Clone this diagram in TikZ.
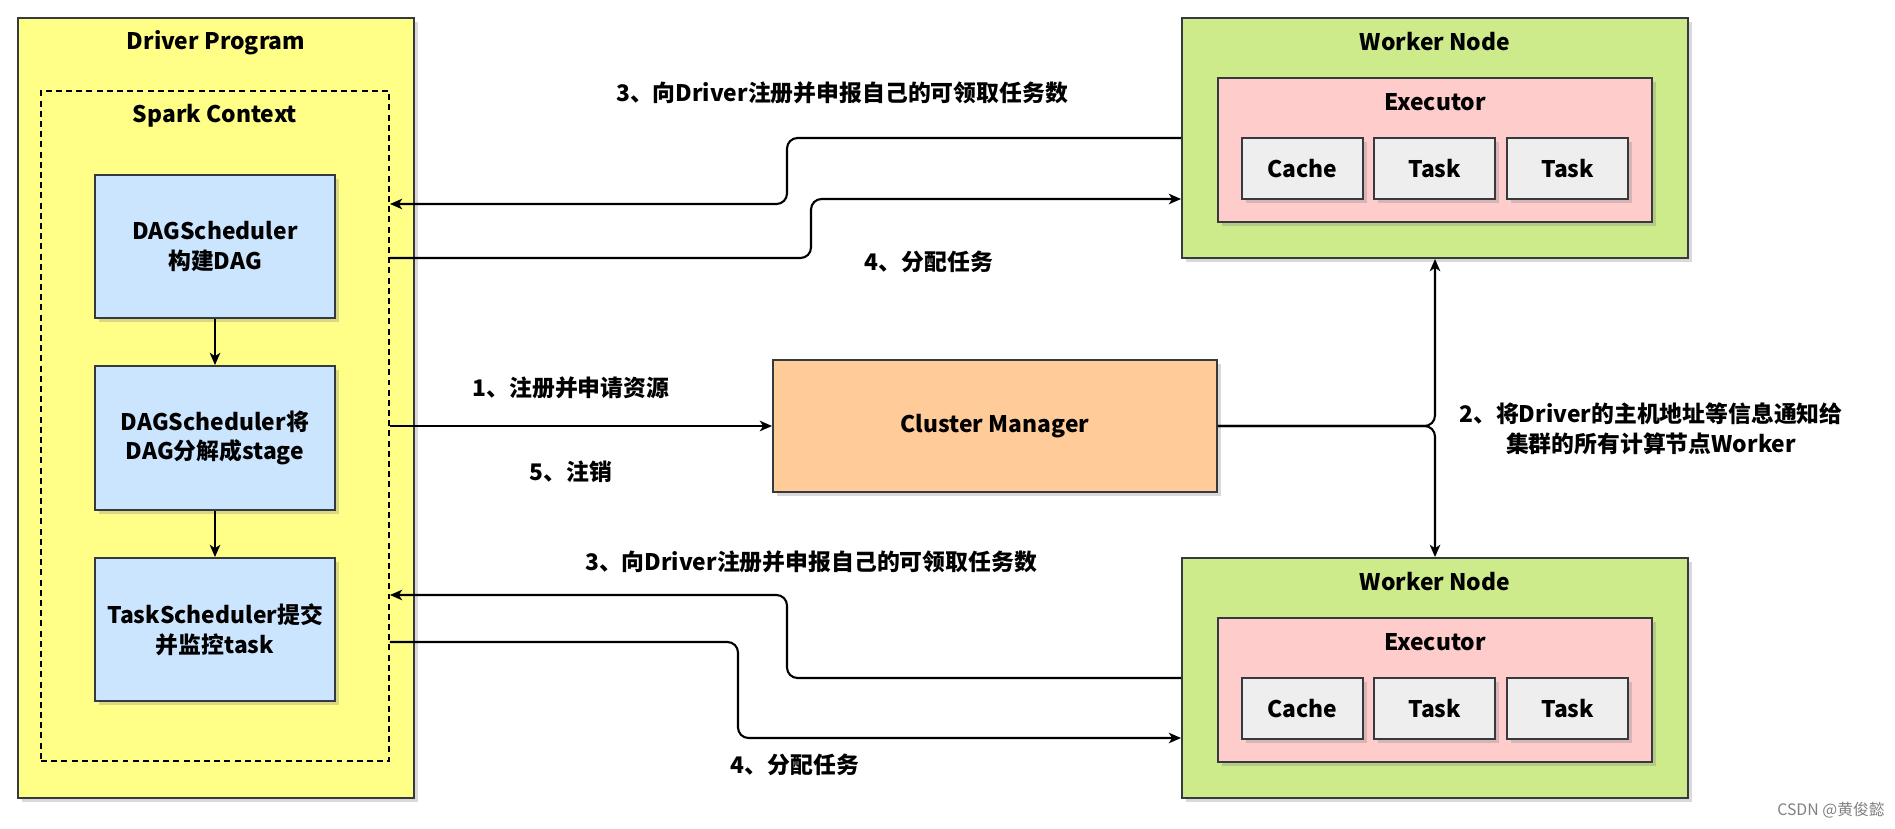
\documentclass[tikz,border=0pt]{standalone}
\usepackage{fontspec}
\setmainfont{Noto Sans CJK SC}
\usetikzlibrary{shadows, arrows.meta}

\definecolor{bord}{HTML}{36393D}
\definecolor{jaune}{HTML}{FFFF88}
\definecolor{bleu}{HTML}{CCE5FF}
\definecolor{vert}{HTML}{CDEB8B}
\definecolor{rose}{HTML}{FFCCCC}
\definecolor{gris}{HTML}{EEEEEE}
\definecolor{orange}{HTML}{FFCC99}

\tikzset{
  boite/.style={draw=bord, line width=1.1pt, drop shadow={shadow xshift=2pt, shadow yshift=-2pt, opacity=0.3}},
  texte/.style={font=\fontsize{13}{17}\selectfont\bfseries, align=center},
  fleche/.style={->, line width=1.2pt, rounded corners=6pt},
}

\begin{document}
\begin{tikzpicture}[x=0.02cm, y=-0.02cm, >={Stealth[length=7pt, width=6pt, inset=2pt]}]

% Cadre
\def\px{0.02cm}
\useasboundingbox (0,0) rectangle (1895,828);

% Driver Program
\node[boite, fill=jaune, minimum width=396*\px, minimum height=780*\px] (driver) at (216,408) {};
\node[texte] (drivertitre) at ([yshift=-0.52cm]driver.north) {Driver Program};
\node[draw, line width=1.1pt, dash pattern=on 3.4pt off 2.4pt, minimum width=348*\px, minimum height=670*\px] (spark) at (215,426) {};
\node[texte] (sparktitre) at ([yshift=-0.52cm]spark.north) {Spark Context};

% Schedulers
\node[boite, fill=bleu, texte, minimum width=240*\px, minimum height=143*\px] (dag) at (215,246.5) {DAGScheduler\\构建DAG};
\node[boite, fill=bleu, texte, minimum width=240*\px, minimum height=144*\px] (stage) at (215,438) {DAGScheduler将\\DAG分解成stage};
\node[boite, fill=bleu, texte, minimum width=240*\px, minimum height=143*\px] (task) at (215,629.5) {TaskScheduler提交\\并监控task};
\draw[->, line width=1.2pt] (dag) -- (stage);
\draw[->, line width=1.2pt] (stage) -- (task);

% Cluster Manager
\node[boite, fill=orange, texte, minimum width=444*\px, minimum height=132*\px] (cm) at (995,426) {Cluster Manager};

% Worker Node (haut)
\node[boite, fill=vert, minimum width=506*\px, minimum height=240*\px] (w1) at (1435,138) {};
\node[texte] (w1titre) at ([yshift=-0.50cm]w1.north) {Worker Node};
\node[boite, fill=rose, minimum width=434*\px, minimum height=144*\px] (ex1) at (1435,150) {};
\node[texte] (ex1titre) at ([yshift=-0.50cm]ex1.north) {Executor};
\node[boite, fill=gris, texte, minimum width=121*\px, minimum height=61*\px] (cache1) at (1302.5,168.5) {Cache};
\node[boite, fill=gris, texte, minimum width=121*\px, minimum height=61*\px] (taska1) at (1434.5,168.5) {Task};
\node[boite, fill=gris, texte, minimum width=121*\px, minimum height=61*\px] (taskb1) at (1567.5,168.5) {Task};

% Worker Node (bas)
\node[boite, fill=vert, minimum width=506*\px, minimum height=240*\px] (w2) at (1435,678) {};
\node[texte] (w2titre) at ([yshift=-0.48cm]w2.north) {Worker Node};
\node[boite, fill=rose, minimum width=434*\px, minimum height=144*\px] (ex2) at (1435,690) {};
\node[texte] (ex2titre) at ([yshift=-0.50cm]ex2.north) {Executor};
\node[boite, fill=gris, texte, minimum width=121*\px, minimum height=61*\px] (cache2) at (1302.5,708.5) {Cache};
\node[boite, fill=gris, texte, minimum width=121*\px, minimum height=61*\px] (taska2) at (1434.5,708.5) {Task};
\node[boite, fill=gris, texte, minimum width=121*\px, minimum height=61*\px] (taskb2) at (1567.5,708.5) {Task};

% 1 et 5 : Driver -> Cluster Manager
\draw[fleche] (spark.east) -- (cm.west);
\node[texte] (l1) at (571,388) {1、注册并申请资源};
\node[texte] (l5) at (571,472) {5、注销};

% 2 : Cluster Manager -> Workers
\draw[fleche] (cm.east) -| (w1.south);
\draw[fleche] (cm.east) -| (w2.north);
\node[texte] (l2) at (1651,429) {2、将Driver的主机地址等信息通知给\\集群的所有计算节点Worker};

% 3 et 4 : Worker (haut)
\draw[fleche] (w1.west) -- (787,138) -- (787,204) -- (spark.east |- 0,204);
\draw[fleche] (spark.east |- 0,258) -- (811,258) -- (811,199) -- (w1.west |- 0,199);
\node[texte] (l3a) at (842,93) {3、向Driver注册并申报自己的可领取任务数};
\node[texte] (l4a) at (929,262) {4、分配任务};

% 3 et 4 : Worker (bas)
\draw[fleche] (w2.west) -- (787,678) -- (787,595) -- (spark.east |- 0,595);
\draw[fleche] (spark.east |- 0,642) -- (738,642) -- (738,738) -- (w2.west |- 0,738);
\node[texte] (l3b) at (811,562) {3、向Driver注册并申报自己的可领取任务数};
\node[texte] (l4b) at (795,765) {4、分配任务};

% Filigrane
\node[font=\fontsize{9}{11}\selectfont, text=gray] (csdn) at (1831,810) {CSDN @黄俊懿};
\end{tikzpicture}
\end{document}
